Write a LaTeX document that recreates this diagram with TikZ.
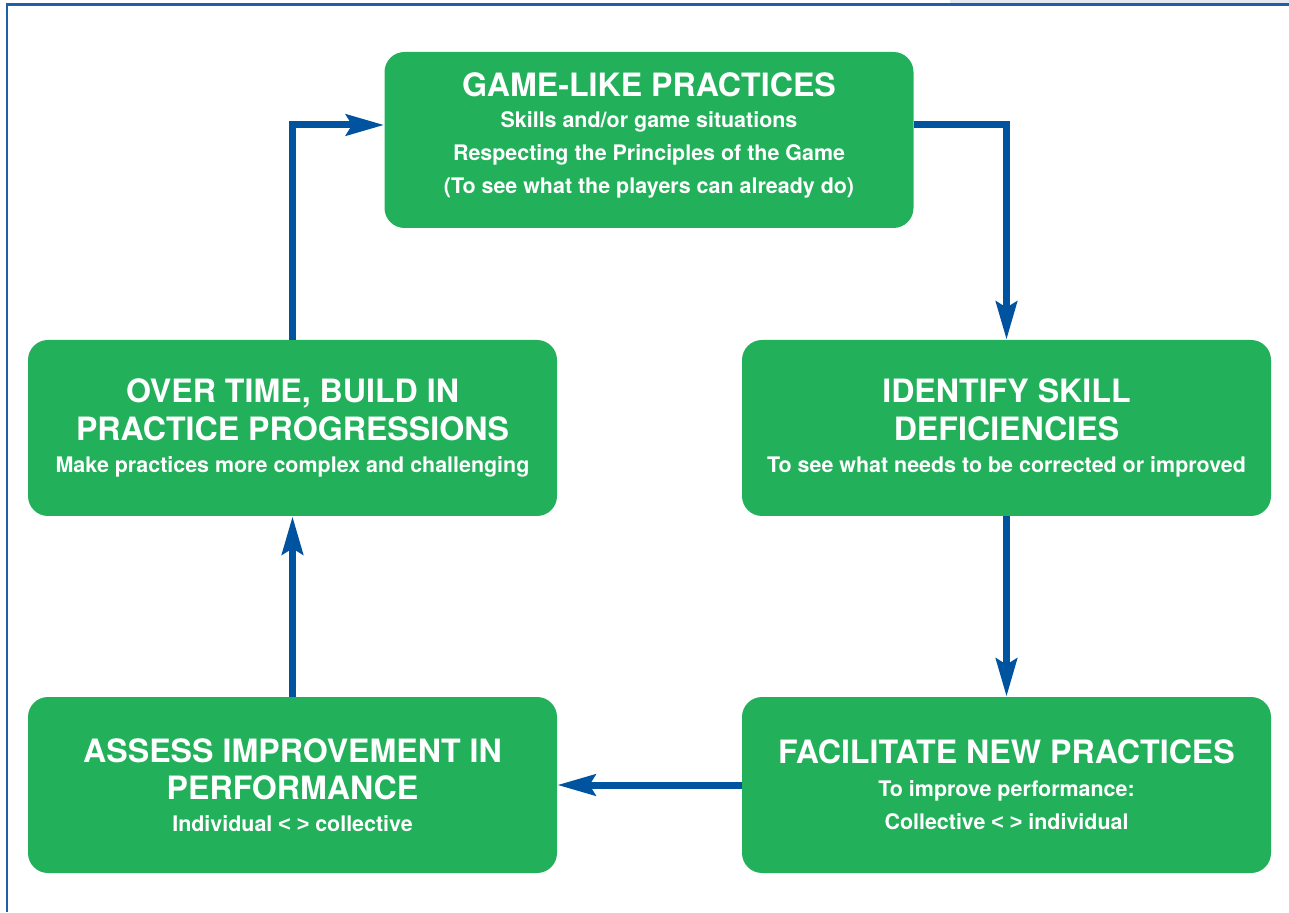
\documentclass[tikz,border=0pt]{standalone}
\usepackage{fontspec}
\setmainfont{TeX Gyre Heros}
\newfontfamily\signfont{Liberation Sans}
\usetikzlibrary{arrows.meta}
\newcommand\headsize{\fontsize{18.3pt}{21.6pt}\selectfont}
\newcommand\notesize{\fontsize{12.2pt}{18.8pt}\selectfont}
\newcommand\both{{\signfont < >}}

\begin{document}
\begin{tikzpicture}
   \definecolor{stagegreen}{HTML}{22B15A}
   \definecolor{flowblue}{HTML}{00549F}
   \definecolor{framegrey}{HTML}{E4E8EE}
   \definecolor{frameblue}{HTML}{1F5FA8}
   \tikzset{stage/.style={fill=stagegreen,rounded corners=0.4cm,minimum width=10.58cm,minimum height=3.52cm,
      inner sep=0pt,text=white,align=center,font=\notesize\bfseries},
     flow/.style={flowblue,line width=0.14cm,-{Stealth[length=0.76cm,width=0.42cm,inset=0.12cm]}}}
   \useasboundingbox (0,0) rectangle (25.78,18.24);
   % page frame
   \fill [framegrey] (19,18.16) rectangle (25.78,18.24);
   \draw [frameblue,line width=0.06cm] (0.14,0) -- (0.14,18.14) -- (25.78,18.14);
   % the five stages
   \node [stage] (game) at (12.98,15.44) {{\headsize GAME-LIKE PRACTICES}\\[-1.2pt]
      Skills and/or game situations\\ Respecting the Principles of the Game\\
      (To see what the players can already do)\rule[-0.26cm]{0pt}{1pt}};
   \node [stage] (deficit) at (20.13,9.68) {{\headsize IDENTIFY SKILL}\\[2.75pt]
      {\headsize DEFICIENCIES}\\[-0.8pt] To see what needs to be corrected or improved};
   \node [stage] (newprac) at (20.13,2.54) {{\headsize FACILITATE NEW PRACTICES}\\[-0.2pt]
      To improve performance:\\ Collective \both{} individual};
   \node [stage] (assess) at (5.85,2.54) {{\headsize ASSESS IMPROVEMENT IN}\\[2.75pt]
      {\headsize PERFORMANCE}\\[-0.8pt] Individual \both{} collective};
   \node [stage] (progress) at (5.85,9.68) {{\headsize OVER TIME, BUILD IN}\\[2.75pt]
      {\headsize PRACTICE PROGRESSIONS}\\[-0.8pt] Make practices more complex and challenging};
   % cycle arrows
   \draw [flow] ([yshift=0.3cm]game.east) -| (deficit.north);
   \draw [flow] (deficit.south) -- (newprac.north);
   \draw [flow] (newprac.west) -- (assess.east);
   \draw [flow] (assess.north) -- (progress.south);
   \draw [flow] (progress.north) |- ([yshift=0.3cm]game.west);
\end{tikzpicture}
\end{document}
